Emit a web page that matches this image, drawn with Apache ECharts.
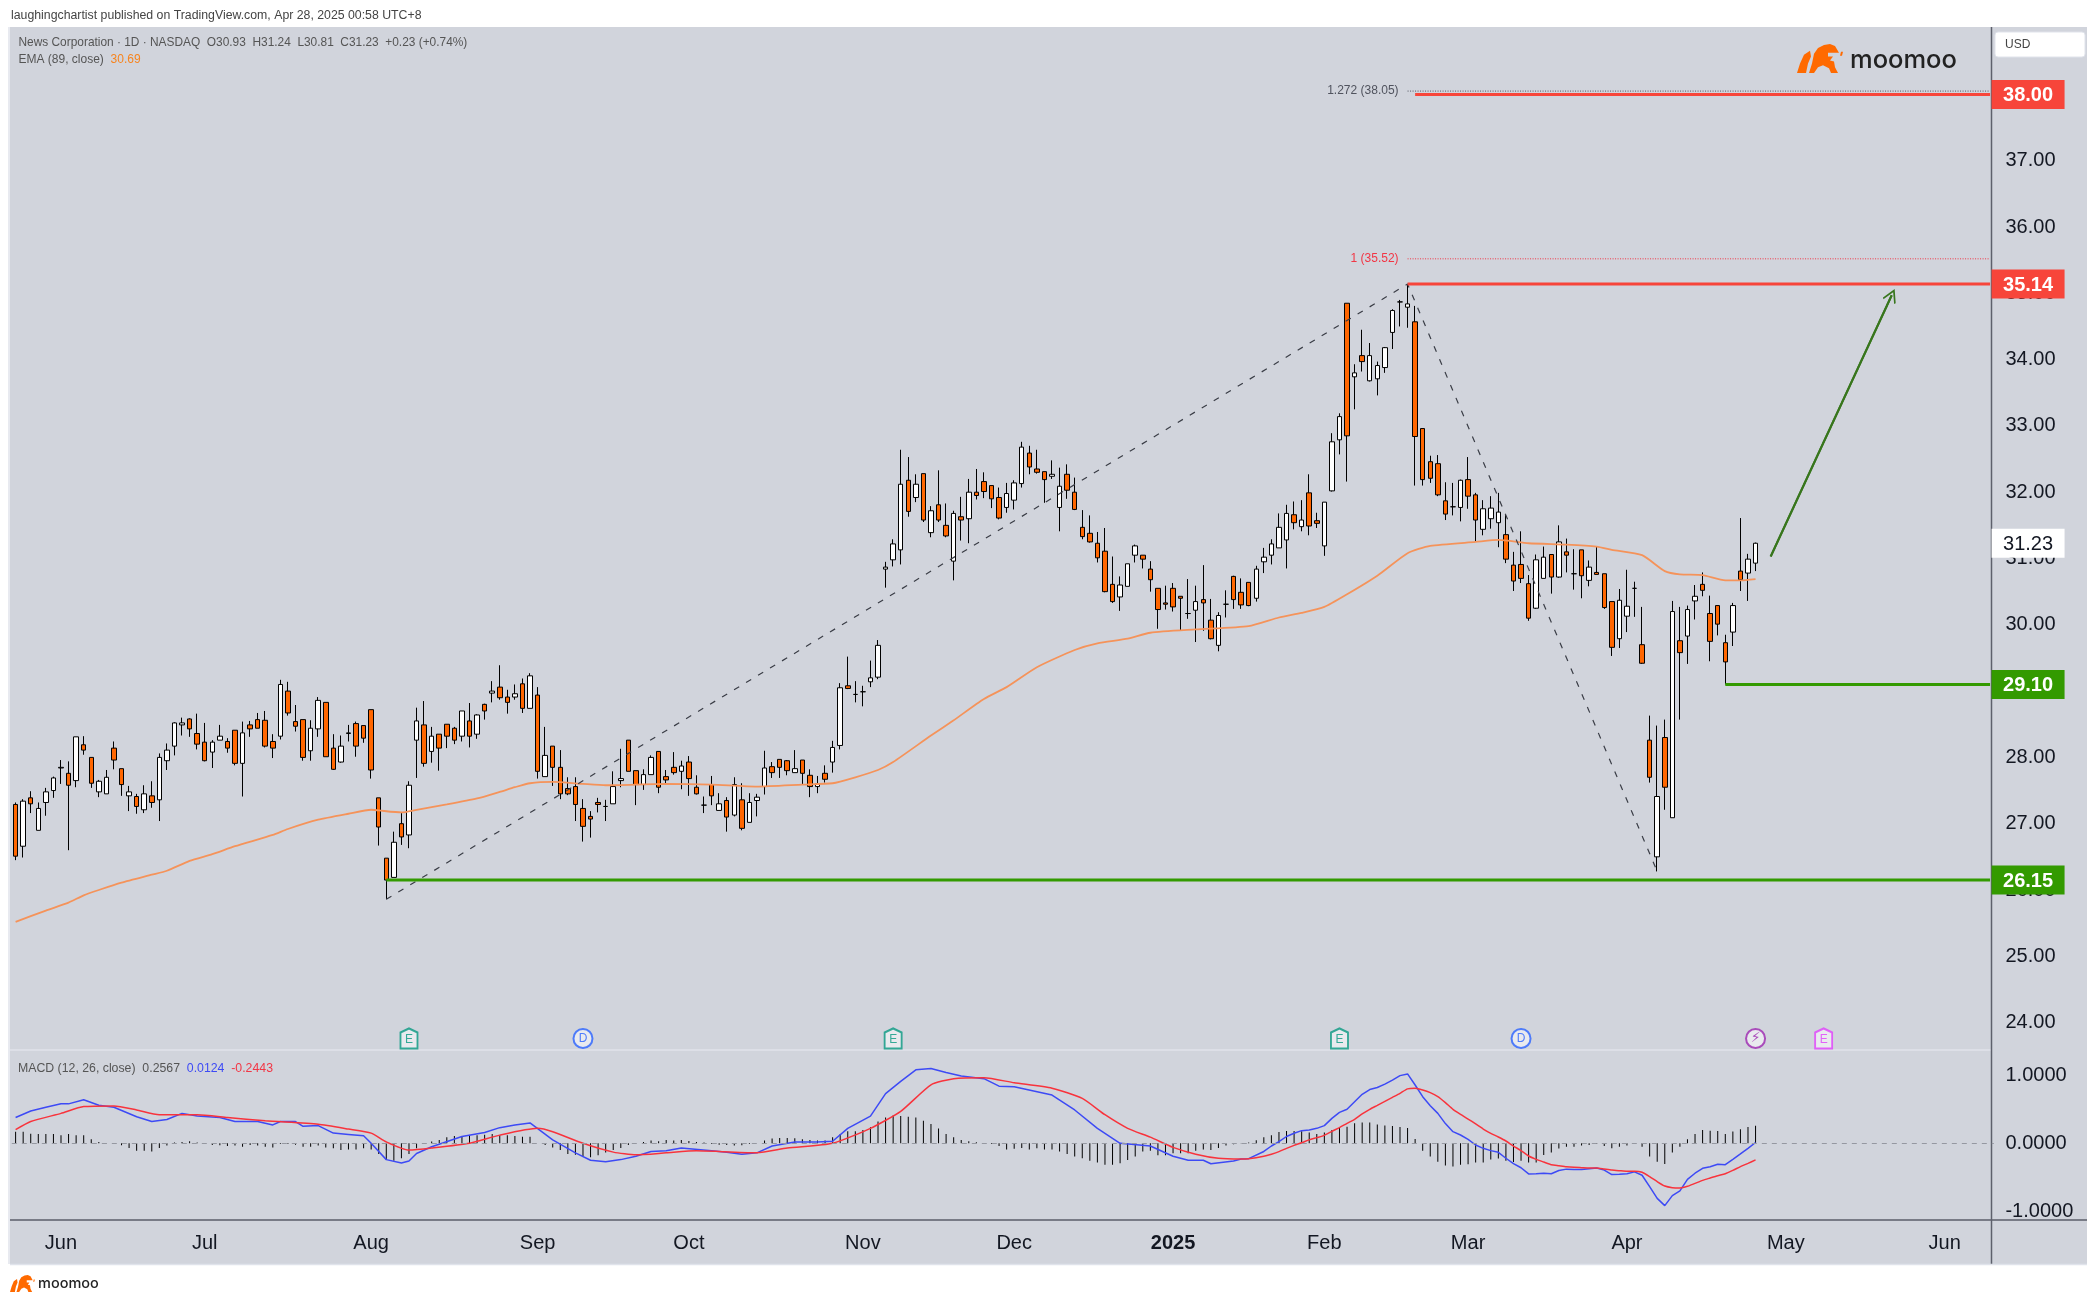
<!DOCTYPE html>
<html><head><meta charset="utf-8">
<style>html,body{margin:0;padding:0;background:#fff}#c{width:2100px;height:1300px}</style>
<script src="https://cdn.jsdelivr.net/npm/echarts@6/dist/echarts.min.js"></script>
</head><body><div id="c"></div>
<script>
// [open, close, low, high] for each daily bar, first bar 2024-05-23
const ohlc = [
[27.29,26.51,26.45,27.32],[26.66,27.34,26.49,27.37],[27.39,27.30,27.16,27.49],[26.90,27.23,26.90,27.32],[27.32,27.48,27.12,27.54],
[27.50,27.69,27.39,27.71],[27.84,27.85,27.60,27.96],[27.76,27.58,26.60,27.94],[27.65,28.31,27.55,28.31],[28.19,28.11,28.04,28.32],
[28.00,27.61,27.54,28.00],[27.48,27.64,27.40,27.66],[27.45,27.70,27.45,27.81],[28.14,27.96,27.82,28.24],[27.83,27.59,27.42,27.83],
[27.42,27.48,27.19,27.57],[27.41,27.26,27.15,27.45],[27.21,27.45,27.16,27.58],[27.42,27.32,27.24,27.64],[27.36,28.00,27.04,28.06],
[27.95,28.11,27.81,28.21],[28.17,28.52,28.03,28.53],[28.49,28.52,28.33,28.60],[28.58,28.43,28.31,28.59],[28.36,28.20,28.12,28.66],
[28.23,27.95,27.94,28.52],[28.08,28.23,27.84,28.26],[28.26,28.32,28.26,28.49],[28.24,28.14,28.07,28.29],[28.41,27.91,27.88,28.41],
[27.91,28.37,27.41,28.54],[28.49,28.43,28.31,28.55],[28.57,28.44,28.44,28.67],[28.56,28.17,28.15,28.70],[28.24,28.14,27.99,28.35],
[28.32,29.10,28.27,29.17],[29.00,28.67,28.63,29.14],[28.54,28.47,28.39,28.79],[28.57,28.00,27.95,28.57],[28.10,28.44,27.95,28.56],
[28.43,28.86,28.31,28.91],[28.83,28.01,28.01,28.83],[28.14,27.82,27.81,28.35],[27.93,28.17,27.92,28.33],[28.36,28.37,28.24,28.49],
[28.51,28.17,28.01,28.54],[28.48,28.29,28.22,28.48],[28.72,27.81,27.68,28.72],[27.39,26.95,26.67,27.39],[26.48,26.15,25.86,26.48],
[26.19,26.72,26.19,26.88],[27.00,26.80,26.68,27.16],[26.83,27.58,26.63,27.64],[28.26,28.55,27.69,28.75],[28.49,27.91,27.86,28.85],
[28.09,28.32,27.92,28.46],[28.35,28.14,27.80,28.35],[28.50,28.32,28.14,28.50],[28.44,28.26,28.20,28.46],[28.32,28.70,28.24,28.70],
[28.55,28.32,28.15,28.82],[28.35,28.64,28.28,28.65],[28.80,28.70,28.57,28.81],[28.97,29.00,28.83,29.15],[29.06,28.90,28.87,29.39],
[28.91,28.83,28.66,29.02],[28.91,28.96,28.87,29.10],[29.11,28.74,28.67,29.19],[28.74,29.23,28.74,29.27],[28.94,27.79,27.68,29.06],
[27.71,28.03,27.71,28.46],[28.17,27.85,27.57,28.17],[27.85,27.45,27.37,28.11],[27.53,27.45,27.43,27.70],[27.56,27.29,27.04,27.70],
[27.23,26.96,26.73,27.37],[27.11,27.07,26.79,27.19],[27.32,27.29,27.17,27.39],[27.26,27.26,27.04,27.36],[27.30,27.56,27.30,27.79],
[27.65,27.68,27.55,28.13],[28.26,27.79,27.79,28.26],[27.80,27.59,27.28,27.80],[27.59,27.74,27.51,27.82],[27.74,28.00,27.74,28.03],
[28.09,27.55,27.46,28.09],[27.71,27.66,27.59,27.81],[27.85,27.77,27.74,28.08],[27.79,27.87,27.52,27.95],[27.93,27.68,27.42,28.02],
[27.55,27.45,27.44,27.73],[27.28,27.28,27.16,27.41],[27.59,27.42,27.28,27.72],[27.20,27.30,27.20,27.46],[27.35,27.10,26.88,27.40],
[27.13,27.59,27.11,27.70],[27.36,26.93,26.90,27.61],[27.02,27.32,27.02,27.46],[27.35,27.40,27.11,27.45],[27.56,27.84,27.44,28.10],
[27.86,27.77,27.69,27.93],[27.97,27.85,27.69,27.97],[27.95,27.80,27.73,27.96],[27.77,27.83,27.77,28.11],[27.96,27.76,27.59,27.96],
[27.73,27.56,27.40,27.82],[27.56,27.60,27.46,27.72],[27.76,27.67,27.62,27.88],[27.93,28.15,27.77,28.25],[28.18,29.05,28.12,29.12],
[29.08,29.04,29.03,29.52],[28.95,28.95,28.83,29.15],[28.99,28.99,28.77,29.08],[29.14,29.20,29.06,29.46],[29.21,29.69,29.18,29.77],
[30.84,30.87,30.56,30.95],[30.98,31.22,30.88,31.29],[31.13,32.12,30.91,32.64],[32.18,31.71,31.63,32.53],[31.92,32.12,31.85,32.27],
[32.28,31.58,31.55,32.28],[31.39,31.72,31.32,31.79],[31.81,31.58,31.55,32.33],[31.50,31.34,31.32,31.83],[30.96,31.68,30.67,31.72],
[31.63,31.58,31.27,31.93],[31.60,32.00,31.23,32.20],[32.00,31.95,31.89,32.35],[32.16,32.01,31.91,32.30],[32.10,31.90,31.76,32.10],
[31.92,31.61,31.59,32.07],[31.77,31.98,31.69,32.14],[31.88,32.14,31.74,32.18],[32.13,32.68,32.07,32.76],[32.59,32.38,32.27,32.70],
[32.35,32.30,32.28,32.64],[32.31,32.19,31.84,32.31],[32.24,32.27,32.20,32.48],[31.77,32.09,31.41,32.37],[32.27,32.03,31.90,32.42],
[32.00,31.74,31.73,32.22],[31.47,31.33,31.29,31.73],[31.38,31.25,31.24,31.65],[31.23,31.01,30.94,31.40],[31.11,30.50,30.49,31.46],
[30.61,30.35,30.33,31.03],[30.42,30.60,30.21,30.73],[30.58,30.92,30.58,30.92],[31.05,31.19,30.94,31.21],[31.05,30.99,30.85,31.05],
[30.84,30.68,30.50,30.96],[30.55,30.23,29.94,30.55],[30.33,30.31,30.23,30.59],[30.55,30.27,30.20,30.63],[30.43,30.40,29.92,30.43],
[30.17,30.17,30.09,30.69],[30.22,30.35,29.74,30.59],[30.38,30.33,29.91,30.90],[30.07,29.79,29.78,30.39],[29.69,30.14,29.60,30.19],
[30.31,30.31,30.11,30.52],[30.73,30.38,30.24,30.74],[30.49,30.30,30.24,30.70],[30.64,30.29,30.28,30.64],[30.40,30.84,30.35,30.89],
[30.95,31.02,30.78,31.16],[31.05,31.22,30.91,31.29],[31.16,31.47,31.16,31.68],[31.28,31.68,30.85,31.81],[31.66,31.54,31.44,31.86],
[31.48,31.58,31.41,31.88],[31.99,31.49,31.35,32.27],[31.57,31.53,31.46,31.69],[31.19,31.85,31.04,31.85],[32.02,32.76,32.01,32.89],
[32.79,33.14,32.57,33.19],[34.85,32.85,32.16,34.85],[33.74,33.80,33.25,33.93],[34.06,33.97,33.82,34.45],[33.68,34.06,33.67,34.25],
[33.71,33.91,33.46,33.97],[33.88,34.18,33.80,34.19],[34.41,34.74,34.16,34.76],[34.87,34.87,34.50,34.90],[34.79,34.84,34.48,35.14],
[34.57,32.84,32.10,34.81],[32.96,32.19,32.10,32.96],[32.46,32.21,32.14,32.55],[32.43,31.96,31.94,32.56],[31.87,31.67,31.58,32.15],
[31.78,31.78,31.65,32.14],[31.77,32.18,31.56,32.19],[32.19,31.94,31.75,32.53],[31.96,31.58,31.25,31.99],[31.44,31.75,31.35,31.88],
[31.60,31.76,31.45,31.94],[31.54,31.70,31.17,31.99],[31.36,30.99,30.93,31.67],[30.90,30.66,30.51,31.10],[30.91,30.70,30.63,31.41],
[30.62,30.10,30.06,30.75],[30.25,30.98,30.24,31.06],[30.70,31.02,30.70,31.18],[31.06,30.72,30.47,31.06],[30.72,31.25,30.71,31.50],
[31.10,31.05,30.79,31.30],[30.77,30.77,30.53,31.14],[31.13,30.74,30.40,31.13],[30.67,30.87,30.58,30.97],[30.79,30.76,30.76,31.18],
[30.77,30.26,30.24,30.77],[30.35,29.66,29.53,30.35],[29.79,30.37,29.65,30.54],[30.13,30.28,29.89,30.83],[30.55,30.55,30.12,30.65],
[29.70,29.42,29.41,30.27],[28.26,27.70,27.62,28.63],[26.50,27.41,26.28,28.48],[28.30,27.55,27.21,28.57],[27.09,30.20,27.09,30.36],
[29.76,29.58,28.57,30.27],[29.83,30.23,29.41,30.29],[30.36,30.43,30.08,30.60],[30.61,30.52,30.43,30.79],[30.17,29.75,29.45,30.44],
[30.29,30.01,29.84,30.29],[29.73,29.44,29.10,29.85],[29.89,30.29,29.68,30.33],[30.81,30.68,30.51,31.61],[30.78,30.99,30.36,31.07],
[30.93,31.23,30.81,31.24]
];
// EMA (89, close): [bar index, value] vertices
const ema89 = [[0,25.52],[4,25.69],[7,25.81],[9,25.92],[11,26.00],[14,26.11],[18,26.23],[20,26.29],[23,26.44],[26,26.54],[29,26.66],[34,26.83],[36,26.92],[40,27.06],[44,27.15],[47,27.21],[48,27.20],[51,27.17],[53,27.21],[57,27.29],[61,27.38],[64,27.48],[66,27.55],[68,27.61],[71,27.63],[75,27.60],[78,27.58],[86,27.60],[92,27.59],[98,27.56],[104,27.59],[108,27.61],[111,27.70],[114,27.81],[116,27.93],[121,28.33],[124,28.56],[128,28.88],[131,29.06],[135,29.36],[140,29.62],[143,29.72],[147,29.79],[150,29.88],[156,29.93],[163,29.98],[167,30.11],[170,30.18],[173,30.27],[176,30.46],[180,30.74],[184,31.08],[187,31.19],[193,31.25],[196,31.28],[200,31.23],[205,31.21],[209,31.18],[211,31.13],[215,31.05],[218,30.81],[220,30.76],[223,30.75],[226,30.67],[228,30.67],[230,30.69]];
// MACD line and signal line: [bar index, value]
const macdLine = [[0,.38],[2,.475],[4,.53],[6,.58],[7,.58],[9,.64],[11,.56],[13,.53],[16,.39],[18,.32],[20,.35],[22,.44],[24,.40],[27,.38],[29,.32],[32,.32],[34,.27],[35,.32],[37,.32],[38,.25],[40,.26],[42,.15],[44,.13],[46,.11],[47,0],[49,-.24],[51,-.29],[52,-.26],[53,-.15],[55,-.05],[59,.10],[62,.16],[64,.23],[66,.27],[68,.30],[71,.05],[74,-.14],[76,-.25],[78,-.27],[80,-.24],[82,-.19],[84,-.12],[86,-.11],[88,-.07],[92,-.11],[94,-.13],[96,-.16],[98,-.14],[100,-.04],[103,.02],[106,.02],[108,.03],[110,.22],[113,.40],[115,.73],[117,.91],[119,1.08],[121,1.10],[123,1.04],[125,.99],[128,.95],[130,.84],[132,.83],[137,.71],[140,.49],[143,.22],[146,0],[150,-.04],[153,-.19],[155,-.25],[157,-.25],[158,-.30],[161,-.26],[162,-.23],[163,-.226],[165,-.12],[166,-.04],[167,.024],[168,.10],[169,.147],[170,.186],[171,.196],[172,.22],[173,.26],[174,.367],[175,.455],[176,.50],[177,.61],[178,.72],[179,.79],[180,.82],[181,.87],[182,.93],[183,.995],[184,1.02],[185,.857],[186,.686],[187,.553],[188,.44],[189,.29],[190,.171],[191,.122],[192,.058],[193,-.025],[194,-.074],[195,-.108],[196,-.133],[197,-.22],[198,-.30],[199,-.36],[200,-.45],[201,-.447],[202,-.44],[203,-.447],[204,-.40],[205,-.38],[206,-.387],[207,-.387],[208,-.373],[209,-.363],[210,-.393],[211,-.46],[212,-.456],[213,-.447],[214,-.42],[215,-.47],[216,-.638],[217,-.81],[218,-.917],[219,-.77],[220,-.70],[221,-.53],[222,-.44],[223,-.368],[224,-.344],[225,-.309],[226,-.314],[227,-.236],[228,-.157],[229,-.074],[230,.012]];
const signalLine = [[0,.20],[2,.32],[6,.44],[9,.54],[13,.55],[16,.49],[19,.42],[24,.42],[28,.38],[33,.33],[40,.28],[44,.21],[47,.15],[49,.02],[52,-.10],[55,-.07],[60,0],[64,.12],[69,.22],[71,.17],[75,0],[79,-.13],[82,-.17],[86,-.14],[90,-.11],[93,-.12],[98,-.14],[102,-.07],[108,0],[113,.22],[117,.47],[121,.86],[124,.95],[128,.965],[132,.89],[137,.81],[141,.66],[144,.42],[147,.22],[150,.09],[153,-.06],[156,-.16],[159,-.22],[162,-.23],[163,-.226],[165,-.19],[166,-.16],[167,-.123],[168,-.074],[169,-.03],[170,.009],[171,.05],[172,.083],[173,.117],[174,.176],[175,.23],[176,.294],[177,.352],[178,.431],[179,.50],[180,.558],[181,.617],[182,.676],[183,.735],[184,.80],[185,.808],[186,.784],[187,.745],[188,.686],[189,.598],[190,.50],[191,.426],[192,.357],[193,.284],[194,.21],[195,.147],[196,.093],[197,.034],[198,-.04],[199,-.108],[200,-.187],[201,-.236],[202,-.275],[203,-.314],[204,-.329],[205,-.344],[206,-.353],[207,-.358],[208,-.363],[209,-.363],[210,-.378],[211,-.393],[212,-.403],[213,-.412],[214,-.412],[215,-.427],[216,-.49],[217,-.564],[218,-.628],[219,-.652],[220,-.657],[221,-.633],[222,-.589],[223,-.545],[224,-.51],[225,-.476],[226,-.447],[227,-.398],[228,-.344],[229,-.295],[230,-.244]];
// MACD histogram, one value per bar
const macdHist = [.17,.17,.14,.137,.137,.137,.118,.137,.118,.12,
.06,.02,.005,-.01,-.03,-.07,-.11,-.11,-.12,-.07,
-.034,.01,.02,.03,.01,-.01,-.025,-.03,-.04,-.034,
-.05,-.025,-.034,-.05,-.06,-.01,-.01,-.02,-.05,-.05,
-.034,-.06,-.074,-.098,-.09,-.09,-.074,-.09,-.157,-.245,
-.255,-.22,-.157,-.074,-.01,.025,.05,.088,.108,.108,
.118,.118,.127,.137,.118,.118,.108,.098,.098,0,
-.025,-.06,-.098,-.157,-.17,-.196,-.206,-.176,-.137,-.098,
-.069,-.025,0,.02,.04,.03,.05,.04,.05,.035,
.02,.01,-.01,-.02,-.025,-.034,-.03,-.01,0,.04,
.07,.078,.078,.074,.06,.05,.04,.04,.088,.137,
.176,.176,.196,.235,.32,.38,.407,.40,.39,.38,
.333,.284,.216,.137,.088,.05,.03,.015,0,-.01,
-.04,-.09,-.08,-.07,-.09,-.074,-.09,-.09,-.12,-.157,
-.196,-.22,-.255,-.284,-.314,-.314,-.294,-.245,-.196,-.12,
-.11,-.176,-.176,-.147,-.147,-.147,-.108,-.09,-.098,-.07,
-.034,-.015,.005,.01,.044,.088,.118,.167,.181,.181,
.176,.157,.137,.157,.196,.225,.245,.294,.304,.304,
.275,.26,.255,.24,.225,.064,-.108,-.196,-.27,-.328,
-.343,-.314,-.309,-.284,-.284,-.24,-.225,-.255,-.275,-.255,
-.284,-.284,-.172,-.137,-.078,-.049,-.049,-.034,-.025,-.01,
-.039,-.074,-.049,-.034,-.01,-.049,-.196,-.27,-.304,-.137,
-.049,.059,.137,.196,.186,.181,.137,.172,.206,.24,.2567];
const priceTicks = [24,25,26,27,28,29,30,31,32,33,34,35,36,37,38];
const macdTicks = [-1,0,1];
const monthBars = [6,25,47,69,89,112,132,153,173,192,213,234,255];
const monthNames = ['Jun','Jul','Aug','Sep','Oct','Nov','Dec','2025','Feb','Mar','Apr','May','Jun'];
const marketHolidays = ['2024-05-27','2024-06-19','2024-07-04','2024-09-02','2024-11-28','2024-12-25','2025-01-01','2025-01-09','2025-01-20','2025-02-17','2025-04-18','2025-05-26'];
// pivots of the dashed swing line
const swingPath = [[49,25.86],[184,35.14],[217,26.28]];
// horizontal levels: [first bar, value]
const redLevels = [[185,38.00],[184,35.14]];
const greenLevels = [[226,29.10],[49,26.15]];
const fibLevels = [{ratio:'1.272',value:38.05,start:184,color:'#50535e'},{ratio:'1',value:35.52,start:184,color:'#f23645'}];
const lastClose = 31.23;
const targetArrow = [[232,31.03],[248,34.97]];
const eventBars = [52,75,116,175,199,230,239];
const eventKinds = ['E','D','E','E','D','⚡','E'];
const eventColors = ['#089981','#2962ff','#089981','#089981','#2962ff','#9c27b0','#e040fb'];

const barCount = 262;
const categories = [];
for (let d = new Date(Date.UTC(2024,4,23)); categories.length < barCount; d = new Date(d.getTime()+864e5)) {
  const s = d.toISOString().slice(0,10), w = d.getUTCDay();
  if (w !== 0 && w !== 6 && !marketHolidays.includes(s)) categories.push(s);
}
const monthLabelOf = {};
monthBars.forEach((b,i)=>{ monthLabelOf[categories[b]] = monthNames[i]; });

const FONT = '"Liberation Sans", Arial, sans-serif';
const TXT = '#131722', LAST = 261, EVENT_Y = 23.76;
const BG = '#d1d4dc', RED = '#f7453a', GREEN = '#339a00';
// logo outline on a 46×30 design box
const logoParts = [
  [[0,30],[3,20],[7,11],[13,7],[14,13],[11,20],[9,30]],
  [[12,30],[15,20],[17,10],[21,4],[27,1],[33,0],[38,2],[42,9],[31,9],[31,13],[36,13],[33,17],[37,18],[38,24],[41,30],[34,30],[32,25],[26,22],[21,24],[17,30]],
  [[44,8],[46,8],[45,12],[43,12]]
];
function logo(x,y,sx,sy){
  return logoParts.map(p=>({type:'polygon',z:20,silent:true,shape:{points:p.map(q=>[x+q[0]*sx,y+q[1]*sy])},style:{fill:'#ff6a00'}}));
}

function tag(value, bg, fg, hi) {
  return {xAxis: LAST, yAxis: value, symbol:'rect', symbolSize:[73,29], symbolOffset:[38,0],
    itemStyle:{color:bg, borderWidth:0},
    label:{show:true, position:'inside', offset:[0,1], formatter:value.toFixed(2), color:fg, fontSize:20, fontFamily:FONT, fontWeight: hi?'bold':'normal'}, z:hi?6:5};
}
function levelSeries(value, start, color, width, type) {
  return {type:'line', xAxisIndex:0, yAxisIndex:0, data:[[start,value],[LAST,value]], symbol:'none', silent:true, z:4,
    lineStyle:{color, width, type}};
}
function txt(text, x, y, size, fill, extra) {
  return {type:'text', x, y, z:20, silent:true, style:Object.assign({text, fill, font:`${size}px ${FONT}`, textVerticalAlign:'middle'}, extra||{})};
}
function ln(x1,y1,x2,y2,stroke,w){return {type:'line',z:-1,silent:true,shape:{x1,y1,x2,y2},style:{stroke,lineWidth:w}};}

const eventData = eventBars.map((b,i)=>{
  const k = eventKinds[i], c = eventColors[i];
  return {value:[b,EVENT_Y],
    symbol: k==='E' ? 'path://M0,4 L8,0 L16,4 L16,20 L0,20 Z' : 'circle',
    symbolSize: k==='E' ? [17,20] : 19,
    itemStyle:{color:'rgba(255,255,255,.65)', borderColor:c, borderWidth:2},
    label:{show:true, formatter:k, color:c, fontSize:k==='⚡'?14:12, fontFamily:k==='⚡'?'DejaVu Sans':FONT, position:'inside', offset:k==='E'?[0,1]:[0,0]}};
});

const chart = echarts.init(document.getElementById('c'), null, {renderer:'canvas', devicePixelRatio:1});
chart.setOption({
  animation:false, backgroundColor:'#fff',
  textStyle:{fontFamily:FONT},
  graphic:{elements:[
    {type:'rect', z:-10, silent:true, shape:{x:10,y:27,width:2077,height:1237}, style:{fill:BG}},
    ln(10,1050,1991,1050,'#e0e3eb',1.5),
    ln(10,1220,2087,1220,'#787b86',2),
    ln(1991.5,27,1991.5,1264,'#5d606b',1.5),
    ln(9,27,9,1264,'#e0e3eb',1.5),
    ln(10,1264.5,2087,1264.5,'#e0e3eb',1.5),
    txt('laughingchartist published on TradingView.com, Apr 28, 2025 00:58 UTC+8',11,16,12.3,'#444'),
    txt('News Corporation · 1D · NASDAQ  O30.93  H31.24  L30.81  C31.23  +0.23 (+0.74%)',18.5,43,11.9,'#555'),
    {type:'text',x:18.5,y:60,z:20,silent:true,style:{text:'{a|EMA (89, close)}  {o|30.69}',textVerticalAlign:'middle',font:`12px ${FONT}`,rich:{a:{fill:'#555',font:`12px ${FONT}`},o:{fill:'#f7841e',font:`12px ${FONT}`}}}},
    {type:'text',x:18,y:1068.5,z:20,silent:true,style:{text:'{a|MACD (12, 26, close)}  {a|0.2567}  {b|0.0124}  {r|-0.2443}',textVerticalAlign:'middle',font:`12.3px ${FONT}`,rich:{a:{fill:'#555',font:`12.3px ${FONT}`},b:{fill:'#3d4af5',font:`12.3px ${FONT}`},r:{fill:'#f23645',font:`12.3px ${FONT}`}}}},
    {type:'rect',z:20,silent:true,shape:{x:1995,y:32,width:90,height:25,r:3},style:{fill:'#fff',stroke:'#e0e3eb'}},
    txt('USD',2005,45,12,'#444'),
    ...logo(1797,44,1,0.97),
    txt('moomoo',1850,60,25.5,'#222',{font:`500 25.5px Inter, ${FONT}`}),
    ...logo(10,1275,0.54,0.57),
    txt('moomoo',38,1284,14.5,'#222',{font:`500 14.5px Inter, ${FONT}`})
  ]},
  grid:[
    {left:11.82, right:106.15, top:27.7, height:1023},
    {left:11.82, right:106.15, top:1050, height:170}
  ],
  xAxis:[
    {type:'category', gridIndex:0, data:categories, axisLine:{show:false}, axisTick:{show:false}, axisLabel:{show:false}, splitLine:{show:false}},
    {type:'category', gridIndex:1, data:categories, axisLine:{show:false}, axisTick:{show:false}, splitLine:{show:false},
      axisLabel:{show:true, margin:13, color:TXT, fontSize:20, fontFamily:FONT, hideOverlap:false,
        interval:(i,v)=>v in monthLabelOf,
        formatter:(v)=>{const t=monthLabelOf[v]||''; return t==='2025'?'{b|2025}':t;},
        rich:{b:{fontWeight:'bold',fontSize:20,color:TXT,fontFamily:FONT}}}}
  ],
  yAxis:[
    {type:'value', gridIndex:0, position:'right', min:23.576, max:39.006, axisLine:{show:false}, axisTick:{show:false}, splitLine:{show:false},
      axisLabel:{customValues:priceTicks, margin:11.6, color:TXT, fontSize:20, fontFamily:FONT, padding:[2,0,0,0], formatter:v=>v.toFixed(2)}},
    {type:'value', gridIndex:1, position:'right', min:-1.128, max:1.372, axisLine:{show:false}, axisTick:{show:false}, splitLine:{show:false},
      axisLabel:{customValues:macdTicks, margin:11.6, color:TXT, fontSize:20, fontFamily:FONT, padding:[2,0,0,0], formatter:v=>v.toFixed(4)}}
  ],
  series:[
    {type:'candlestick', xAxisIndex:0, yAxisIndex:0, data:ohlc, barWidth:5, z:3,
      itemStyle:{color:'#ffffff', color0:'#ff6600', borderColor:'#000', borderColor0:'#000', borderColorDoji:'#000', borderWidth:1},
      silent:true,
      markPoint:{silent:true, animation:false, data:[
        tag(redLevels[0][1],RED,'#fff',true),
        tag(redLevels[1][1],RED,'#fff',true),
        tag(lastClose,'#fff','#131722',false),
        tag(greenLevels[0][1],GREEN,'#fff',true),
        tag(greenLevels[1][1],GREEN,'#fff',true),
      ].concat(fibLevels.map(f=>({xAxis:f.start,yAxis:f.value,symbol:'circle',symbolSize:0,
        label:{show:true,position:'left',distance:9,formatter:`${f.ratio} (${f.value.toFixed(2)})`,color:f.color,fontSize:12,fontFamily:FONT}})))}
    },
    {type:'line', xAxisIndex:0, yAxisIndex:0, data:ema89, symbol:'none', smooth:0.2, z:4, silent:true, lineStyle:{color:'#f5935a', width:1.8}},
    {type:'line', xAxisIndex:0, yAxisIndex:0, data:swingPath, symbol:'none', z:4, silent:true, lineStyle:{color:'#3a3d46', width:1.2, type:[6,8]}},
    ...fibLevels.map(f=>levelSeries(f.value,f.start,f.color,1,[1,1.5])),
    ...redLevels.map(l=>levelSeries(l[1],l[0],RED,3,'solid')),
    ...greenLevels.map(l=>levelSeries(l[1],l[0],GREEN,3,'solid')),
    {type:'line', xAxisIndex:0, yAxisIndex:0, data:targetArrow, symbol:'none', silent:true, z:5, lineStyle:{color:'#38761d', width:2},
      markLine:{silent:true, animation:false, symbol:['none','path://M0,0 L10,14 L8.4,15.5 L0,4 L-8.4,15.5 L-10,14 Z'], symbolSize:14,
        lineStyle:{color:'#38761d', width:2, type:'solid'}, label:{show:false},
        data:[[{coord:targetArrow[0]},{coord:targetArrow[1]}]]}},
    {type:'scatter', xAxisIndex:0, yAxisIndex:0, data:eventData, z:6, silent:true, clip:false},
    {type:'bar', xAxisIndex:1, yAxisIndex:1, data:macdHist, barWidth:1, z:2, silent:true, itemStyle:{color:'#000'},
      markLine:{silent:true, animation:false, symbol:'none', label:{show:false}, lineStyle:{color:'#9598a1', width:1, type:[5,5]}, data:[{yAxis:0}]}},
    {type:'line', xAxisIndex:1, yAxisIndex:1, data:macdLine, symbol:'none', z:3, silent:true, lineStyle:{color:'#3d4af5', width:1.5}},
    {type:'line', xAxisIndex:1, yAxisIndex:1, data:signalLine, symbol:'none', z:4, silent:true, smooth:0.2, lineStyle:{color:'#f8333c', width:1.5}}
  ]
});
</script></body></html>
